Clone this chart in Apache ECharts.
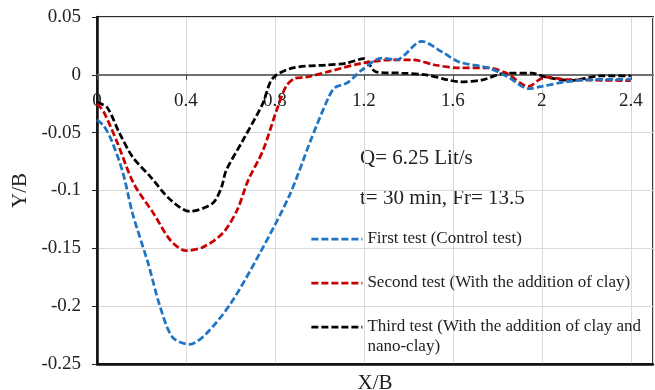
<!DOCTYPE html>
<html>
<head>
<meta charset="utf-8">
<script src="https://cdn.jsdelivr.net/npm/echarts@6/dist/echarts.min.js"></script>
<style>
html,body{margin:0;padding:0;background:#fff;}
#chart{width:655px;height:390px;}
</style>
</head>
<body>
<div id="chart"></div>
<script>
// ---- data ----
const seriesNames = [
  'First test (Control test)',
  'Second test (With the addition of clay)',
  'Third test (With the addition of clay and\nnano-clay)'
];
const firstX = [0, 0.03, 0.066, 0.117, 0.16, 0.23, 0.283, 0.34, 0.417, 0.49, 0.6, 0.73, 0.866, 0.96, 1.04, 1.07, 1.125, 1.19, 1.28, 1.345, 1.46, 1.55, 1.63, 1.76, 1.85, 1.94, 2.0, 2.11, 2.26, 2.4];
const firstY = [-0.039, -0.044, -0.057, -0.085, -0.12, -0.163, -0.2, -0.227, -0.233, -0.224, -0.198, -0.155, -0.104, -0.057, -0.02, -0.011, -0.007, 0.004, 0.0145, 0.013, 0.029, 0.02, 0.011, 0.006, -0.002, -0.012, -0.01, -0.006, -0.004, -0.004];
const secondX = [0, 0.03, 0.09, 0.165, 0.255, 0.33, 0.40, 0.476, 0.565, 0.63, 0.68, 0.745, 0.807, 0.85, 0.89, 0.94, 1.045, 1.19, 1.33, 1.42, 1.52, 1.63, 1.76, 1.84, 1.94, 1.99, 2.02, 2.11, 2.4];
const secondY = [-0.025, -0.032, -0.058, -0.094, -0.12, -0.143, -0.152, -0.149, -0.137, -0.117, -0.091, -0.066, -0.031, -0.01, -0.003, -0.002, 0.003, 0.01, 0.013, 0.013, 0.0085, 0.006, 0.006, 0.0015, -0.01, -0.004, -0.002, -0.004, -0.005];
const thirdX = [0, 0.045, 0.10, 0.16, 0.24, 0.33, 0.417, 0.52, 0.56, 0.58, 0.655, 0.745, 0.79, 0.88, 1.03, 1.12, 1.2, 1.255, 1.37, 1.48, 1.58, 1.63, 1.73, 1.84, 1.955, 2.02, 2.13, 2.26, 2.4];
const thirdY = [-0.024, -0.028, -0.05, -0.071, -0.088, -0.108, -0.118, -0.111, -0.097, -0.083, -0.057, -0.025, -0.003, 0.006, 0.0085, 0.01, 0.014, 0.0025, 0.0015, 0, -0.0045, -0.006, -0.0045, 0.0015, 0.0015, -0.002, -0.005, -0.001, -0.001];
const annotations = ['Q= 6.25 Lit/s', 't= 30 min, Fr= 13.5'];
const xAxisName = 'X/B';
const yAxisName = 'Y/B';

const colors = ['#1F75C4', '#C80000', '#000000'];
const zip = (xs, ys) => xs.map((x, i) => [x, ys[i]]);
const datasets = [zip(firstX, firstY), zip(secondX, secondY), zip(thirdX, thirdY)];

const FONT = '"Liberation Serif", "Times New Roman", serif';
const chart = echarts.init(document.getElementById('chart'), null, {renderer: 'canvas'});

const Y_MIN = -0.25, Y_MAX = 0.05;
const GRID_TOP = 17, GRID_H = 347;
// distance from grid top to the zero line
const zeroOffset = GRID_H * (Y_MAX - 0) / (Y_MAX - Y_MIN);

const legendTops = [229, 273, 297];
const legends = seriesNames.map((n, i) => ({
  data: [n],
  left: 310,
  top: legendTops[i],
  padding: 0,
  itemWidth: 51,
  itemHeight: 14,
  selectedMode: false,
  itemStyle: {color: 'rgba(0,0,0,0)', borderWidth: 0, opacity: 0},
  lineStyle: {width: 2.75, type: [7, 3]},
  formatter: i === 2 ? (name => ' \n' + name) : undefined,
  textStyle: {fontFamily: FONT, fontSize: 17, color: '#222', lineHeight: 20}
}));

chart.setOption({
  animation: false,
  backgroundColor: '#fff',
  grid: {left: 97, top: GRID_TOP, width: 556, height: GRID_H, containLabel: false, outerBoundsMode: 'none',
         show: true, borderColor: '#2a2a2a', borderWidth: 1.8, backgroundColor: 'transparent'},
  legend: legends,
  xAxis: [{
    type: 'value', min: 0, max: 2.5, interval: 0.4, position: 'top', offset: -zeroOffset,
    axisLine: {onZero: false, lineStyle: {color: '#707070', width: 2}},
    axisTick: {show: true, inside: true, length: 5, lineStyle: {color: '#444', width: 1}},
    axisLabel: {inside: true, fontFamily: FONT, fontSize: 19, color: '#222', margin: 17, showMaxLabel: false},
    splitLine: {show: true, lineStyle: {color: '#d9d9d9', width: 1}}
  }, {
    type: 'value', min: 0, max: 2.5, interval: 0.4, position: 'bottom',
    name: xAxisName, nameLocation: 'middle', nameGap: 9,
    nameTextStyle: {fontFamily: FONT, fontSize: 21, color: '#222'},
    axisLine: {onZero: false, lineStyle: {color: '#111', width: 2.5}},
    axisTick: {show: false}, axisLabel: {show: false}, splitLine: {show: false}
  }],
  yAxis: {
    type: 'value', min: Y_MIN, max: Y_MAX, interval: 0.05,
    name: yAxisName, nameLocation: 'middle', nameGap: 59, nameRotate: 90,
    nameTextStyle: {fontFamily: FONT, fontSize: 21, color: '#222'},
    axisLine: {show: true, onZero: false, lineStyle: {color: '#111', width: 2.5}},
    axisTick: {show: true, length: 5, lineStyle: {color: '#222', width: 1}},
    axisLabel: {fontFamily: FONT, fontSize: 19, color: '#222', margin: 16},
    splitLine: {show: true, lineStyle: {color: '#d9d9d9', width: 1}}
  },
  graphic: annotations.map((t, i) => ({
    type: 'text', left: 360, top: [148, 188][i], silent: true,
    style: {text: t, font: '21px ' + FONT, fill: '#222'}
  })),
  series: datasets.map((d, i) => ({
    name: seriesNames[i], type: 'line', data: d, xAxisIndex: 0,
    smooth: 0.3, symbol: 'none', showSymbol: false,
    lineStyle: {color: colors[i], width: 2.75, type: [7, 3]},
    itemStyle: {color: colors[i]},
    z: 3 + (2 - i)
  }))
});
</script>
</body>
</html>
